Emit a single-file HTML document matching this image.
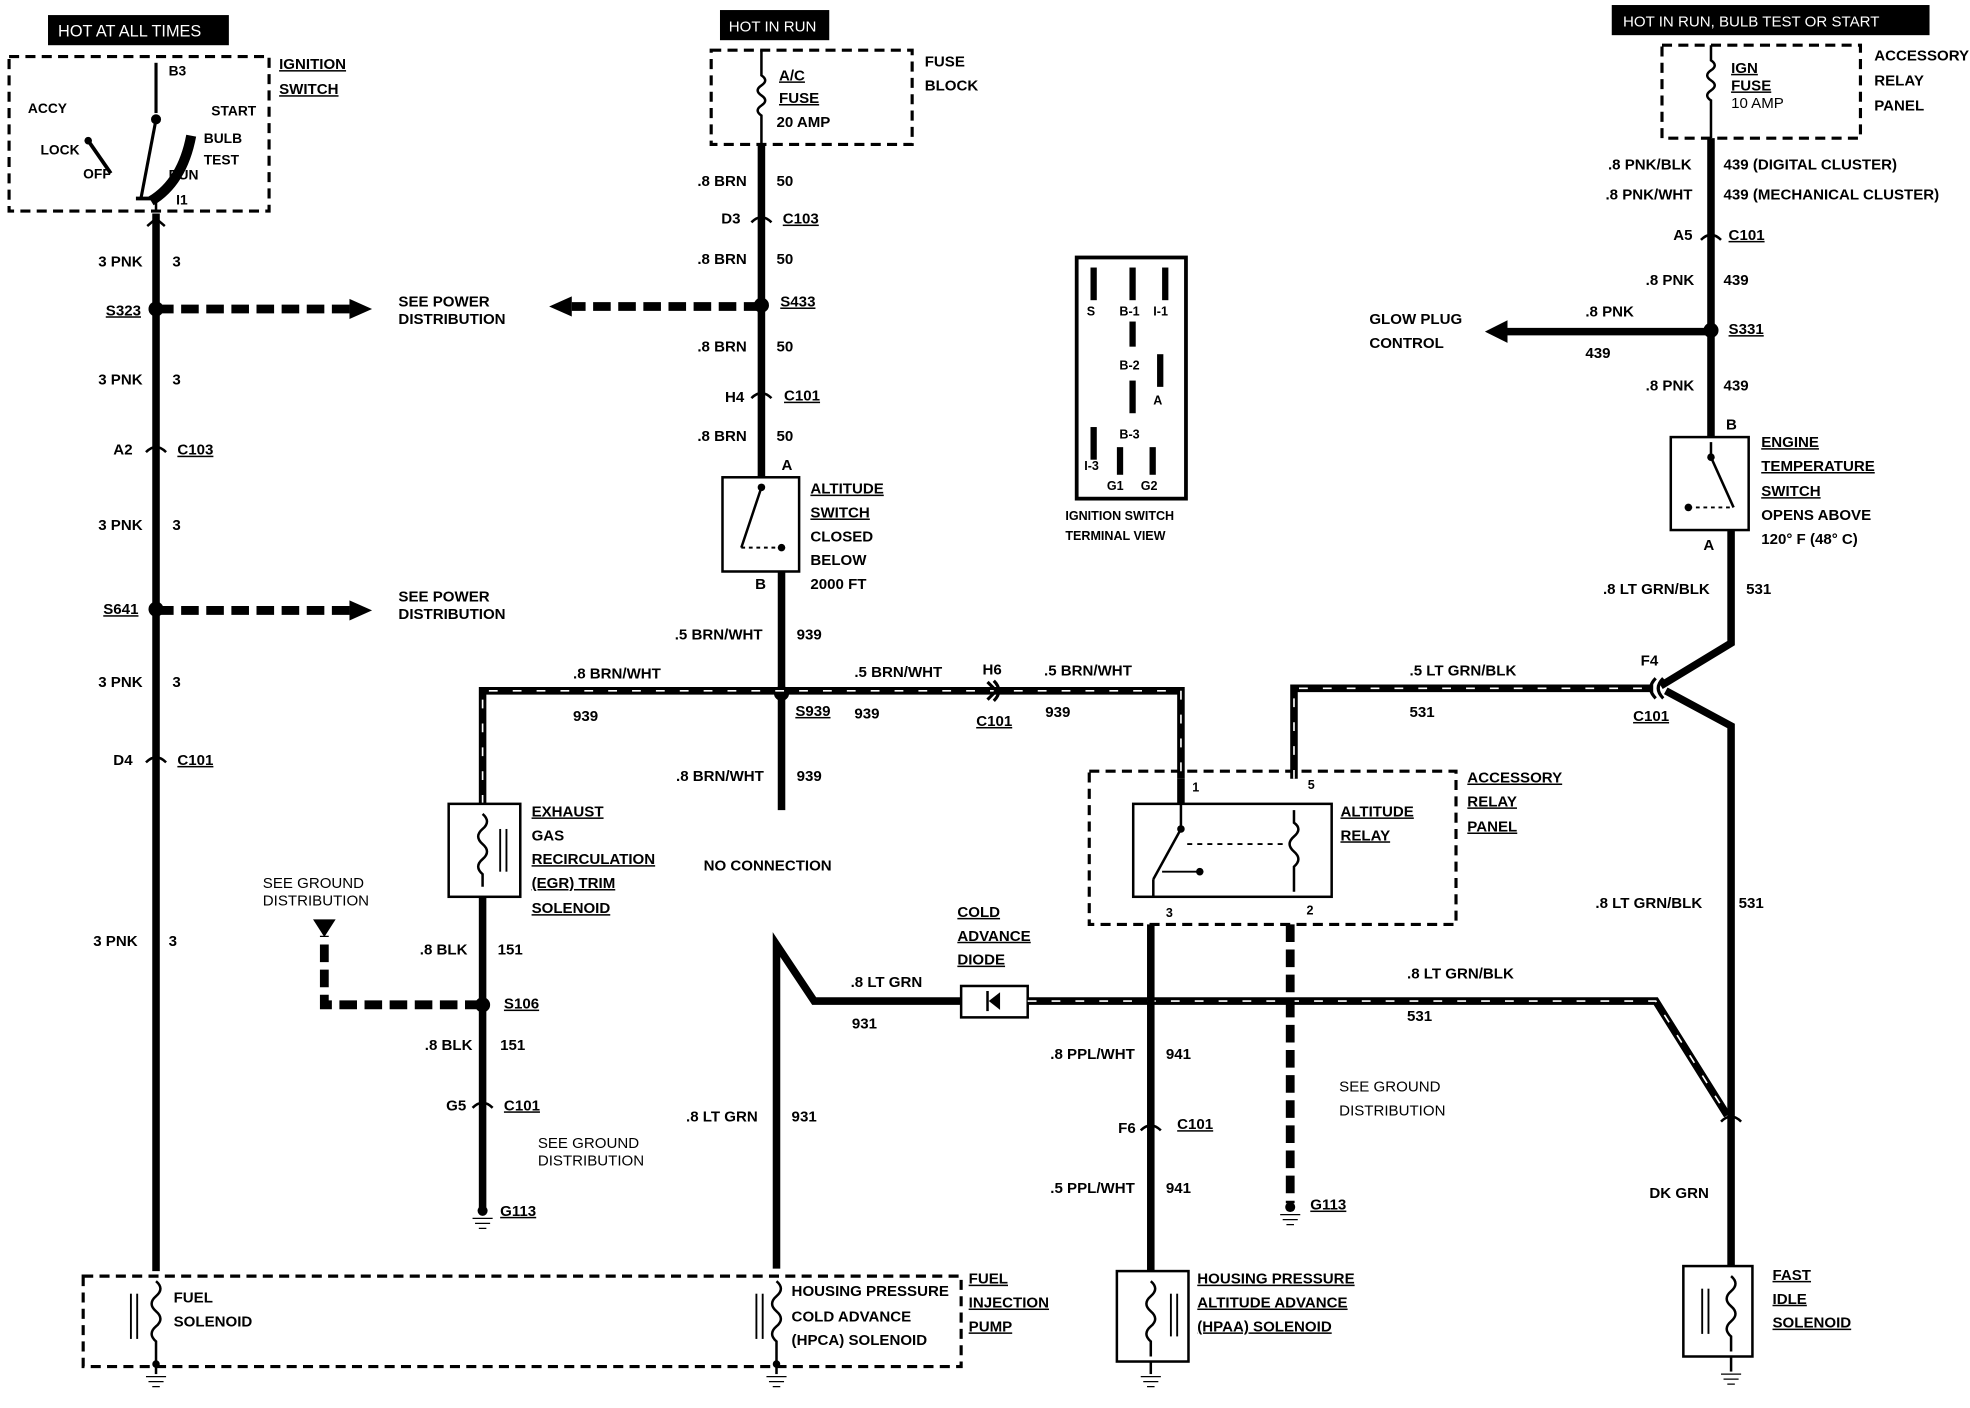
<!DOCTYPE html>
<html><head><meta charset="utf-8"><style>
html,body{margin:0;padding:0;background:#fff;}
svg{display:block;}
text{font-family:"Liberation Sans",sans-serif;font-weight:bold;font-size:12px;fill:#000;}
.w{stroke:#000;stroke-width:6;fill:none;}
.s{stroke:#fff;stroke-width:1.3;stroke-dasharray:7 12;fill:none;}
.d{stroke:#000;stroke-width:2.5;stroke-dasharray:8 5;fill:none;}
.da{stroke:#000;stroke-width:7;stroke-dasharray:14 6;fill:none;}
.t{stroke:#000;stroke-width:2;fill:#fff;}
.u{text-decoration:underline;}
</style></head><body>
<svg width="1970" height="1408" viewBox="0 0 1568 1121" xmlns="http://www.w3.org/2000/svg">
<rect width="1568" height="1121" fill="#fff"/>
<rect x="38" y="12" width="144" height="24" fill="#000"/><text x="46" y="29" style="fill:#fff;font-weight:normal;font-size:13px">HOT AT ALL TIMES</text>
<rect x="573" y="8" width="87" height="24" fill="#000"/><text x="580" y="25" style="fill:#fff;font-weight:normal">HOT IN RUN</text>
<rect x="1283" y="4" width="253" height="24" fill="#000"/><text x="1292" y="21" style="fill:#fff;font-weight:normal">HOT IN RUN, BULB TEST OR START</text>

<rect x="7" y="45" width="207" height="123" class="d"/>
<rect x="566" y="40" width="160" height="75" class="d"/>
<rect x="1323" y="36" width="158" height="74" class="d"/>
<rect x="867" y="614" width="292" height="122" class="d"/>
<rect x="66" y="1016" width="699" height="72" class="d"/>

<line x1="124" y1="50" x2="124" y2="90" stroke="#000" stroke-width="2.5"/>
<circle cx="124" cy="95" r="4"/>
<line x1="124" y1="95" x2="112" y2="158" stroke="#000" stroke-width="2.5"/>
<path d="M108 158 L128 158" stroke="#000" stroke-width="3"/>
<path d="M152 108 Q145 145 120 160" stroke="#000" stroke-width="8" fill="none"/>
<line x1="124" y1="158" x2="124" y2="168" stroke="#000" stroke-width="2"/>
<circle cx="70" cy="112" r="3"/>
<line x1="70" y1="112" x2="88" y2="138" stroke="#000" stroke-width="3"/>
<text x="22" y="90" style="font-size:11px">ACCY</text><text x="32" y="123" style="font-size:11px">LOCK</text>
<text x="66" y="142" style="font-size:11px">OFF</text><text x="134" y="143" style="font-size:11px">RUN</text>
<text x="168" y="92" style="font-size:11px">START</text><text x="162" y="114" style="font-size:11px">BULB</text><text x="162" y="131" style="font-size:11px">TEST</text>
<text x="134" y="60" style="font-size:11px">B3</text><text x="140" y="163" style="font-size:11px">I1</text>
<text x="222" y="55" class="u">IGNITION</text><text x="222" y="75" class="u">SWITCH</text>

<line x1="124" y1="170" x2="124" y2="1012" class="w"/>
<path d="M117 180 L124 174 L131 180" stroke="#000" stroke-width="2" fill="none"/>
<path d="M116 360 Q124 352 132 360" stroke="#000" stroke-width="2" fill="none"/>
<path d="M116 607 Q124 599 132 607" stroke="#000" stroke-width="2" fill="none"/>
<circle cx="124" cy="246" r="6"/><circle cx="124" cy="485" r="6"/>
<line x1="124" y1="246" x2="278" y2="246" class="da"/><polygon points="278,238 296,246 278,254"/>
<line x1="124" y1="486" x2="278" y2="486" class="da"/><polygon points="278,478 296,486 278,494"/>
<text x="78" y="212">3 PNK</text><text x="137" y="212">3</text>
<text x="84" y="251" class="u">S323</text>
<text x="317" y="244">SEE POWER</text><text x="317" y="258">DISTRIBUTION</text>
<text x="78" y="306">3 PNK</text><text x="137" y="306">3</text>
<text x="90" y="362">A2</text><text x="141" y="362" class="u">C103</text>
<text x="78" y="422">3 PNK</text><text x="137" y="422">3</text>
<text x="82" y="489" class="u">S641</text>
<text x="317" y="479">SEE POWER</text><text x="317" y="493">DISTRIBUTION</text>
<text x="78" y="547">3 PNK</text><text x="137" y="547">3</text>
<text x="90" y="609">D4</text><text x="141" y="609" class="u">C101</text>
<text x="74" y="753">3 PNK</text><text x="134" y="753">3</text>

<path d="M606 40 L606 60 Q612 64 606 68 Q600 72 606 76 Q612 80 606 84 Q600 88 606 92 L606 115" stroke="#000" stroke-width="2" fill="none"/>
<text x="620" y="64" class="u">A/C</text><text x="620" y="82" class="u">FUSE</text><text x="618" y="101">20 AMP</text>
<text x="736" y="53">FUSE</text><text x="736" y="72">BLOCK</text>
<line x1="606" y1="115" x2="606" y2="380" class="w"/>
<circle cx="606" cy="243" r="6"/>
<line x1="606" y1="244" x2="455" y2="244" class="da"/><polygon points="455,236 437,244 455,252"/>
<text x="555" y="148">.8 BRN</text><text x="618" y="148">50</text>
<text x="574" y="178">D3</text><text x="623" y="178" class="u">C103</text>
<text x="555" y="210">.8 BRN</text><text x="618" y="210">50</text>
<text x="621" y="244" class="u">S433</text>
<text x="555" y="280">.8 BRN</text><text x="618" y="280">50</text>
<text x="577" y="320">H4</text><text x="624" y="319" class="u">C101</text>
<text x="555" y="351">.8 BRN</text><text x="618" y="351">50</text>
<path d="M598 177 Q606 169 614 177 M598 317 Q606 309 614 317" stroke="#000" stroke-width="2" fill="none"/>
<rect x="575" y="380" width="61" height="75" class="t"/>
<line x1="606" y1="388" x2="590" y2="436" stroke="#000" stroke-width="2"/><circle cx="606" cy="388" r="3"/><circle cx="622" cy="436" r="3"/>
<line x1="590" y1="436" x2="622" y2="436" stroke="#000" stroke-width="1.5" stroke-dasharray="3 3"/>
<text x="622" y="374">A</text><text x="601" y="469">B</text>
<text x="645" y="393" class="u">ALTITUDE</text><text x="645" y="412" class="u">SWITCH</text><text x="645" y="431">CLOSED</text><text x="645" y="450">BELOW</text><text x="645" y="469">2000 FT</text>
<line x1="622" y1="455" x2="622" y2="645" class="w"/>
<circle cx="622" cy="552" r="6"/>
<text x="537" y="509">.5 BRN/WHT</text><text x="634" y="509">939</text>
<text x="633" y="570" class="u">S939</text><text x="680" y="572">939</text>
<text x="538" y="622">.8 BRN/WHT</text><text x="634" y="622">939</text>
<text x="560" y="693">NO CONNECTION</text>
<path d="M384 640 L384 550 L940 550 L940 620" class="w"/><path d="M384 640 L384 550 L940 550 L940 620" class="s"/>
<path d="M786 543 L793 550 L786 557 M791 542 Q799 550 791 558" stroke="#000" stroke-width="2.5" fill="none"/>
<text x="456" y="540">.8 BRN/WHT</text><text x="456" y="574">939</text>
<text x="680" y="539">.5 BRN/WHT</text>
<text x="782" y="537">H6</text><text x="777" y="578" class="u">C101</text>
<text x="831" y="538">.5 BRN/WHT</text><text x="832" y="571">939</text>
<rect x="357" y="640" width="57" height="74" class="t"/>
<path d="M384 648 Q391 654 384 660 Q377 666 384 672 Q391 678 384 684 Q377 690 384 696 L384 706" stroke="#000" stroke-width="2" fill="none"/>
<line x1="398" y1="660" x2="398" y2="694" stroke="#000" stroke-width="1.5"/><line x1="403" y1="660" x2="403" y2="694" stroke="#000" stroke-width="1.5"/>
<text x="423" y="650" class="u">EXHAUST</text><text x="423" y="669">GAS</text><text x="423" y="688" class="u">RECIRCULATION</text><text x="423" y="707" class="u">(EGR) TRIM</text><text x="423" y="727" class="u">SOLENOID</text>
<line x1="384" y1="714" x2="384" y2="962" class="w"/>
<circle cx="384" cy="800" r="6"/>
<path d="M384 800 L258 800 L258 745" class="da"/><polygon points="249,732 267,732 258,746"/>
<text x="209" y="707" style="font-weight:normal">SEE GROUND</text><text x="209" y="721" style="font-weight:normal">DISTRIBUTION</text>
<text x="334" y="760">.8 BLK</text><text x="396" y="760">151</text>
<text x="401" y="803" class="u">S106</text>
<text x="338" y="836">.8 BLK</text><text x="398" y="836">151</text>
<text x="355" y="884">G5</text><text x="401" y="884" class="u">C101</text>
<path d="M376 882 Q384 874 392 882" stroke="#000" stroke-width="2" fill="none"/>
<text x="428" y="914" style="font-weight:normal">SEE GROUND</text><text x="428" y="928" style="font-weight:normal">DISTRIBUTION</text>
<circle cx="384" cy="964" r="4"/><path d="M376 970 L392 970 M378 974 L390 974 M381 978 L387 978" stroke="#000"/>
<text x="398" y="968" class="u">G113</text>
<path d="M618 1010 L618 752 L648 797 L765 797" class="w"/>
<rect x="765" y="785" width="53" height="25" class="t"/>
<polygon points="796,790 796,804 787,797"/><line x1="786" y1="789" x2="786" y2="805" stroke="#000" stroke-width="2"/>
<text x="677" y="786">.8 LT GRN</text><text x="678" y="819">931</text>
<text x="546" y="893">.8 LT GRN</text><text x="630" y="893">931</text>
<text x="762" y="730" class="u">COLD</text><text x="762" y="749" class="u">ADVANCE</text><text x="762" y="768" class="u">DIODE</text>
<path d="M818 797 L1318 797 L1375 888" class="w"/><path d="M818 797 L1318 797 L1375 888" class="s"/>
<text x="1120" y="779">.8 LT GRN/BLK</text><text x="1120" y="813">531</text>
<rect x="902" y="640" width="158" height="74" class="t"/>
<path d="M940 620 L940 640" class="w"/>
<line x1="940" y1="640" x2="940" y2="660" stroke="#000" stroke-width="2"/>
<line x1="940" y1="660" x2="918" y2="700" stroke="#000" stroke-width="2"/><circle cx="940" cy="660" r="3"/><circle cx="955" cy="694" r="3"/>
<line x1="925" y1="694" x2="955" y2="694" stroke="#000" stroke-width="1.5"/>
<line x1="945" y1="672" x2="1022" y2="672" stroke="#000" stroke-width="1.5" stroke-dasharray="4 4"/>
<path d="M1030 645 L1030 655 Q1037 660 1030 666 Q1023 672 1030 678 Q1037 684 1030 690 L1030 710" stroke="#000" stroke-width="2" fill="none"/>
<line x1="918" y1="700" x2="918" y2="714" stroke="#000" stroke-width="2"/>
<text x="949" y="630" style="font-size:10px">1</text><text x="1041" y="628" style="font-size:10px">5</text>
<text x="928" y="730" style="font-size:10px">3</text><text x="1040" y="728" style="font-size:10px">2</text>
<text x="1067" y="650" class="u">ALTITUDE</text><text x="1067" y="669" class="u">RELAY</text>
<text x="1168" y="623" class="u">ACCESSORY</text><text x="1168" y="642" class="u">RELAY</text><text x="1168" y="662" class="u">PANEL</text>
<path d="M1030 620 L1030 548 L1316 548" class="w"/><path d="M1030 620 L1030 548 L1316 548" class="s"/>
<path d="M1318 540 Q1310 548 1318 556 M1324 540 Q1316 548 1324 556" stroke="#000" stroke-width="2.5" fill="none"/>
<text x="1122" y="538">.5 LT GRN/BLK</text><text x="1122" y="571">531</text>
<text x="1306" y="530">F4</text><text x="1300" y="574" class="u">C101</text>
<line x1="916" y1="736" x2="916" y2="1012" class="w"/>
<text x="836" y="843">.8 PPL/WHT</text><text x="928" y="843">941</text>
<text x="890" y="902">F6</text><text x="937" y="899" class="u">C101</text>
<text x="836" y="950">.5 PPL/WHT</text><text x="928" y="950">941</text>
<path d="M908 900 Q916 892 924 900" stroke="#000" stroke-width="2" fill="none"/>
<line x1="1027" y1="736" x2="1027" y2="958" class="da"/>
<circle cx="1027" cy="961" r="4"/><path d="M1019 967 L1035 967 M1021 971 L1033 971 M1024 975 L1030 975" stroke="#000"/>
<text x="1043" y="963" class="u">G113</text>
<text x="1066" y="869" style="font-weight:normal">SEE GROUND</text><text x="1066" y="888" style="font-weight:normal">DISTRIBUTION</text>
<rect x="889" y="1012" width="57" height="72" class="t"/>
<path d="M916 1020 Q923 1026 916 1032 Q909 1038 916 1044 Q923 1050 916 1056 Q909 1062 916 1068 L916 1080" stroke="#000" stroke-width="2" fill="none"/>
<line x1="932" y1="1030" x2="932" y2="1064" stroke="#000" stroke-width="1.5"/><line x1="937" y1="1030" x2="937" y2="1064" stroke="#000" stroke-width="1.5"/>
<text x="953" y="1022" class="u">HOUSING PRESSURE</text><text x="953" y="1041" class="u">ALTITUDE ADVANCE</text><text x="953" y="1060" class="u">(HPAA) SOLENOID</text>
<line x1="916" y1="1084" x2="916" y2="1094" stroke="#000" stroke-width="2"/><path d="M908 1096 L924 1096 M910 1100 L922 1100 M913 1104 L919 1104" stroke="#000"/>
<path d="M1362 36 L1362 48 Q1368 52 1362 56 Q1356 60 1362 64 Q1368 68 1362 72 Q1356 76 1362 80 L1362 110" stroke="#000" stroke-width="2" fill="none"/>
<text x="1378" y="58" class="u">IGN</text><text x="1378" y="72" class="u">FUSE</text><text x="1378" y="86" style="font-weight:normal">10 AMP</text>
<text x="1492" y="48">ACCESSORY</text><text x="1492" y="68">RELAY</text><text x="1492" y="88">PANEL</text>
<line x1="1362" y1="110" x2="1362" y2="348" class="w"/>
<path d="M1354 191 Q1362 183 1370 191" stroke="#000" stroke-width="2" fill="none"/>
<text x="1280" y="135">.8 PNK/BLK</text><text x="1372" y="135">439 (DIGITAL CLUSTER)</text>
<text x="1278" y="159">.8 PNK/WHT</text><text x="1372" y="159">439 (MECHANICAL CLUSTER)</text>
<text x="1332" y="191">A5</text><text x="1376" y="191" class="u">C101</text>
<text x="1310" y="227">.8 PNK</text><text x="1372" y="227">439</text>
<circle cx="1362" cy="263" r="6"/>
<line x1="1362" y1="264" x2="1200" y2="264" stroke="#000" stroke-width="6"/><polygon points="1200,255 1182,264 1200,273"/>
<text x="1262" y="252">.8 PNK</text><text x="1262" y="285">439</text>
<text x="1376" y="266" class="u">S331</text>
<text x="1090" y="258">GLOW PLUG</text><text x="1090" y="277">CONTROL</text>
<text x="1310" y="311">.8 PNK</text><text x="1372" y="311">439</text>
<rect x="1330" y="348" width="62" height="74" class="t"/>
<line x1="1362" y1="352" x2="1362" y2="364" stroke="#000" stroke-width="2"/>
<line x1="1362" y1="364" x2="1380" y2="404" stroke="#000" stroke-width="2"/><circle cx="1362" cy="364" r="3"/><circle cx="1344" cy="404" r="3"/>
<line x1="1344" y1="404" x2="1378" y2="404" stroke="#000" stroke-width="1.5" stroke-dasharray="3 3"/>
<text x="1374" y="342">B</text><text x="1356" y="438">A</text>
<text x="1402" y="356" class="u">ENGINE</text><text x="1402" y="375" class="u">TEMPERATURE</text><text x="1402" y="395" class="u">SWITCH</text><text x="1402" y="414">OPENS ABOVE</text><text x="1402" y="433">120° F (48° C)</text>
<path d="M1378 422 L1378 512 L1322 546 M1326 550 L1378 578 L1378 1008" class="w"/>
<text x="1276" y="473">.8 LT GRN/BLK</text><text x="1390" y="473">531</text>
<text x="1270" y="723">.8 LT GRN/BLK</text><text x="1384" y="723">531</text>
<text x="1313" y="954">DK GRN</text>
<path d="M1370 893 Q1378 885 1386 893" stroke="#000" stroke-width="2" fill="none"/>
<rect x="1340" y="1008" width="55" height="72" class="t"/>
<path d="M1378 1016 Q1385 1022 1378 1028 Q1371 1034 1378 1040 Q1385 1046 1378 1052 Q1371 1058 1378 1064 L1378 1076" stroke="#000" stroke-width="2" fill="none"/>
<line x1="1355" y1="1026" x2="1355" y2="1062" stroke="#000" stroke-width="1.5"/><line x1="1360" y1="1026" x2="1360" y2="1062" stroke="#000" stroke-width="1.5"/>
<text x="1411" y="1019" class="u">FAST</text><text x="1411" y="1038" class="u">IDLE</text><text x="1411" y="1057" class="u">SOLENOID</text>
<line x1="1378" y1="1080" x2="1378" y2="1092" stroke="#000" stroke-width="2"/><path d="M1370 1094 L1386 1094 M1372 1098 L1384 1098 M1375 1102 L1381 1102" stroke="#000"/>
<path d="M124 1020 Q131 1026 124 1032 Q117 1038 124 1044 Q131 1050 124 1056 Q117 1062 124 1068 L124 1084" stroke="#000" stroke-width="2" fill="none"/>
<line x1="104" y1="1030" x2="104" y2="1066" stroke="#000" stroke-width="1.5"/><line x1="109" y1="1030" x2="109" y2="1066" stroke="#000" stroke-width="1.5"/>
<circle cx="124" cy="1086" r="3"/><path d="M116 1096 L132 1096 M118 1100 L130 1100 M121 1104 L127 1104" stroke="#000"/>
<line x1="124" y1="1086" x2="124" y2="1094" stroke="#000" stroke-width="2"/>
<text x="138" y="1037">FUEL</text><text x="138" y="1056">SOLENOID</text>
<path d="M618 1020 Q625 1026 618 1032 Q611 1038 618 1044 Q625 1050 618 1056 Q611 1062 618 1068 L618 1084" stroke="#000" stroke-width="2" fill="none"/>
<line x1="602" y1="1030" x2="602" y2="1066" stroke="#000" stroke-width="1.5"/><line x1="607" y1="1030" x2="607" y2="1066" stroke="#000" stroke-width="1.5"/>
<circle cx="618" cy="1086" r="3"/><line x1="618" y1="1086" x2="618" y2="1094" stroke="#000" stroke-width="2"/>
<path d="M610 1096 L626 1096 M612 1100 L624 1100 M615 1104 L621 1104" stroke="#000"/>
<text x="630" y="1032">HOUSING PRESSURE</text><text x="630" y="1052">COLD ADVANCE</text><text x="630" y="1071">(HPCA) SOLENOID</text>
<text x="771" y="1022" class="u">FUEL</text><text x="771" y="1041" class="u">INJECTION</text><text x="771" y="1060" class="u">PUMP</text>
<rect x="857" y="205" width="87" height="192" fill="#fff" stroke="#000" stroke-width="3"/>
<g fill="#000"><rect x="868" y="213" width="5" height="26"/><rect x="899" y="213" width="5" height="26"/><rect x="925" y="213" width="5" height="26"/>
<rect x="899" y="256" width="5" height="20"/><rect x="921" y="282" width="5" height="26"/><rect x="899" y="303" width="5" height="26"/>
<rect x="868" y="340" width="5" height="26"/><rect x="889" y="356" width="5" height="22"/><rect x="915" y="356" width="5" height="22"/></g>
<text x="865" y="251" style="font-size:10px">S</text><text x="891" y="251" style="font-size:10px">B-1</text><text x="918" y="251" style="font-size:10px">I-1</text>
<text x="891" y="294" style="font-size:10px">B-2</text><text x="918" y="322" style="font-size:10px">A</text><text x="891" y="349" style="font-size:10px">B-3</text>
<text x="863" y="374" style="font-size:10px">I-3</text><text x="881" y="390" style="font-size:10px">G1</text><text x="908" y="390" style="font-size:10px">G2</text>
<text x="848" y="414" style="font-size:10px">IGNITION SWITCH</text><text x="848" y="430" style="font-size:10px">TERMINAL VIEW</text>
</svg>
</body></html>
